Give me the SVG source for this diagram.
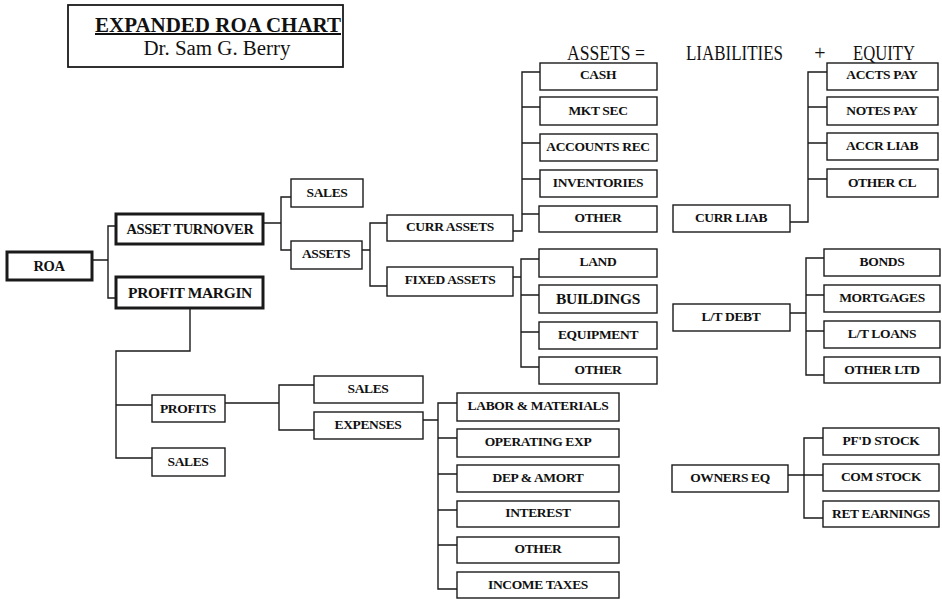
<svg xmlns="http://www.w3.org/2000/svg" width="942" height="599" viewBox="0 0 942 599">
<style>
  .box{fill:#fff;stroke:#1a1a1a;stroke-width:1.4}
  .thick{fill:#fff;stroke:#1a1a1a;stroke-width:3}
  .lbl{font-family:"Liberation Serif","Times New Roman",serif;font-weight:bold;font-size:13.5px;letter-spacing:-0.35px;fill:#111;text-anchor:middle}
  .big{font-size:14.5px}
  .hdr{font-family:"Liberation Serif","Times New Roman",serif;font-size:20px;fill:#111}
  .conn{fill:none;stroke:#1a1a1a;stroke-width:1.4}
</style>
<rect width="942" height="599" fill="#fff"/>
<g id="title">
  <rect x="68" y="5" width="275" height="62" fill="#fff" stroke="#1a1a1a" stroke-width="1.8"/>
  <text x="218" y="32" class="hdr" font-weight="bold" font-size="22" text-anchor="middle" text-decoration="underline" textLength="246" lengthAdjust="spacingAndGlyphs">EXPANDED ROA CHART</text>
  <text x="217" y="55" class="hdr" font-size="21" text-anchor="middle" textLength="147" lengthAdjust="spacingAndGlyphs">Dr. Sam G. Berry</text>
</g>
<g id="header">
  <text x="567" y="60" class="hdr" textLength="78" lengthAdjust="spacingAndGlyphs">ASSETS =</text>
  <text x="686" y="60" class="hdr" textLength="97" lengthAdjust="spacingAndGlyphs">LIABILITIES</text>
  <text x="820" y="60" class="hdr" text-anchor="middle">+</text>
  <text x="853" y="60" class="hdr" textLength="62" lengthAdjust="spacingAndGlyphs">EQUITY</text>
</g>
<g id="connectors" class="conn">
  <path d="M92,260 H108 M116,226 H108 V298 H116"/>
  <path d="M263,223 H281 M291,197 H281 V250 H291"/>
  <path d="M362,250 H370 M387,223 H370 V286 H387"/>
  <path d="M513,231 H522 V72 H540 M522,107 H540 M522,143 H540 M522,179 H540 M522,214 H539"/>
  <path d="M513,277 H521 M539,259 H521 V367 H539 M521,295 H539 M521,332 H539"/>
  <path d="M790,222 H808 V72 H827 M808,107 H827 M808,143 H827 M808,179 H827"/>
  <path d="M790,313 H806 M824,258 H806 V375 H824 M806,295 H824 M806,331 H824"/>
  <path d="M788,475 H804 M823,438 H804 V518 H823 M804,475 H823"/>
  <path d="M190,308 V351 H116 V458 H152 M116,405 H152"/>
  <path d="M225,403 H279 M314,385 H279 V430 H314"/>
  <path d="M423,420 H438 M457,403 H438 V589 H457 M438,438 H457 M438,474 H457 M438,510 H457 M438,545 H457"/>
</g>
<g id="n-roa"><rect class="thick" x="7" y="252" width="85" height="28"/><text class="lbl big" x="49" y="271">ROA</text></g>
<g id="n-asset-turnover"><rect class="thick" x="116" y="214" width="147" height="30"/><text class="lbl big" x="190" y="234">ASSET TURNOVER</text></g>
<g id="n-profit-margin"><rect class="thick" x="116" y="277" width="147" height="31"/><text class="lbl big" x="190" y="298" style="font-size:15.5px">PROFIT MARGIN</text></g>
<g id="n-sales-1"><rect class="box" x="291" y="179" width="72" height="28"/><text class="lbl" x="327" y="197">SALES</text></g>
<g id="n-assets"><rect class="box" x="291" y="241" width="71" height="28"/><text class="lbl" x="326" y="258">ASSETS</text></g>
<g id="n-curr-assets"><rect class="box" x="387" y="215" width="126" height="26"/><text class="lbl" x="450" y="231">CURR ASSETS</text></g>
<g id="n-fixed-assets"><rect class="box" x="387" y="267" width="126" height="29"/><text class="lbl" x="450" y="284">FIXED ASSETS</text></g>
<g id="n-cash"><rect class="box" x="540" y="63" width="117" height="27"/><text class="lbl" x="598" y="79">CASH</text></g>
<g id="n-mkt-sec"><rect class="box" x="540" y="97" width="117" height="28"/><text class="lbl" x="598" y="115">MKT SEC</text></g>
<g id="n-accounts-rec"><rect class="box" x="540" y="134" width="117" height="27"/><text class="lbl" x="598" y="151">ACCOUNTS REC</text></g>
<g id="n-inventories"><rect class="box" x="540" y="170" width="117" height="27"/><text class="lbl" x="598" y="187">INVENTORIES</text></g>
<g id="n-other-ca"><rect class="box" x="539" y="206" width="118" height="26"/><text class="lbl" x="598" y="222">OTHER</text></g>
<g id="n-land"><rect class="box" x="539" y="249" width="118" height="28"/><text class="lbl" x="598" y="266">LAND</text></g>
<g id="n-buildings"><rect class="box" x="539" y="285" width="118" height="28"/><text class="lbl big" x="598" y="304" style="font-size:15.5px">BUILDINGS</text></g>
<g id="n-equipment"><rect class="box" x="539" y="322" width="118" height="27"/><text class="lbl" x="598" y="339">EQUIPMENT</text></g>
<g id="n-other-fa"><rect class="box" x="539" y="357" width="118" height="27"/><text class="lbl" x="598" y="374">OTHER</text></g>
<g id="n-curr-liab"><rect class="box" x="673" y="205" width="117" height="27"/><text class="lbl" x="731" y="222">CURR LIAB</text></g>
<g id="n-accts-pay"><rect class="box" x="827" y="63" width="111" height="27"/><text class="lbl" x="882" y="79">ACCTS PAY</text></g>
<g id="n-notes-pay"><rect class="box" x="827" y="97" width="111" height="28"/><text class="lbl" x="882" y="115">NOTES PAY</text></g>
<g id="n-accr-liab"><rect class="box" x="827" y="133" width="111" height="27"/><text class="lbl" x="882" y="150">ACCR LIAB</text></g>
<g id="n-other-cl"><rect class="box" x="827" y="169" width="111" height="28"/><text class="lbl" x="882" y="187">OTHER CL</text></g>
<g id="n-lt-debt"><rect class="box" x="673" y="304" width="117" height="27"/><text class="lbl" x="731" y="321">L/T DEBT</text></g>
<g id="n-bonds"><rect class="box" x="824" y="249" width="116" height="27"/><text class="lbl" x="882" y="266">BONDS</text></g>
<g id="n-mortgages"><rect class="box" x="824" y="285" width="116" height="27"/><text class="lbl" x="882" y="302">MORTGAGES</text></g>
<g id="n-lt-loans"><rect class="box" x="824" y="321" width="116" height="27"/><text class="lbl" x="882" y="338">L/T LOANS</text></g>
<g id="n-other-ltd"><rect class="box" x="824" y="357" width="116" height="26"/><text class="lbl" x="882" y="374">OTHER LTD</text></g>
<g id="n-owners-eq"><rect class="box" x="672" y="465" width="116" height="27"/><text class="lbl" x="730" y="482">OWNERS EQ</text></g>
<g id="n-pfd-stock"><rect class="box" x="823" y="428" width="116" height="27"/><text class="lbl" x="881" y="445">PF'D STOCK</text></g>
<g id="n-com-stock"><rect class="box" x="823" y="464" width="116" height="27"/><text class="lbl" x="881" y="481">COM STOCK</text></g>
<g id="n-ret-earnings"><rect class="box" x="823" y="501" width="116" height="26"/><text class="lbl" x="881" y="518">RET EARNINGS</text></g>
<g id="n-profits"><rect class="box" x="152" y="395" width="73" height="27"/><text class="lbl" x="188" y="413">PROFITS</text></g>
<g id="n-sales-2"><rect class="box" x="152" y="448" width="73" height="28"/><text class="lbl" x="188" y="466">SALES</text></g>
<g id="n-sales-3"><rect class="box" x="314" y="376" width="109" height="27"/><text class="lbl" x="368" y="393">SALES</text></g>
<g id="n-expenses"><rect class="box" x="314" y="412" width="109" height="27"/><text class="lbl" x="368" y="429">EXPENSES</text></g>
<g id="n-labor"><rect class="box" x="457" y="393" width="162" height="28"/><text class="lbl" x="538" y="410">LABOR &amp; MATERIALS</text></g>
<g id="n-operating-exp"><rect class="box" x="457" y="429" width="162" height="28"/><text class="lbl" x="538" y="446">OPERATING EXP</text></g>
<g id="n-dep-amort"><rect class="box" x="457" y="465" width="162" height="27"/><text class="lbl" x="538" y="482">DEP &amp; AMORT</text></g>
<g id="n-interest"><rect class="box" x="457" y="501" width="162" height="26"/><text class="lbl" x="538" y="517">INTEREST</text></g>
<g id="n-other-exp"><rect class="box" x="457" y="537" width="162" height="26"/><text class="lbl" x="538" y="553">OTHER</text></g>
<g id="n-income-taxes"><rect class="box" x="457" y="572" width="162" height="26"/><text class="lbl" x="538" y="589">INCOME TAXES</text></g>
</svg>
